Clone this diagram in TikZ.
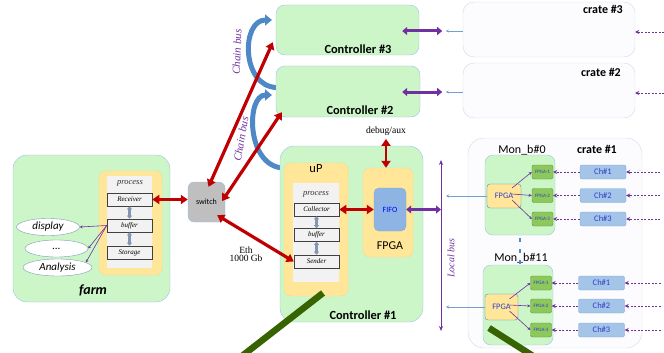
\documentclass[tikz,border=0pt]{standalone}
\usepackage{fontspec}
\setmainfont{Liberation Serif}
\setsansfont{Carlito}
\usetikzlibrary{arrows.meta,calc,shapes.geometric}

\definecolor{boxgreen}{HTML}{CCF5C8}
\definecolor{bordblue}{HTML}{9DC3E6}
\definecolor{boxorange}{HTML}{FFE699}
\definecolor{panelgray}{HTML}{F2F2F2}
\definecolor{busred}{HTML}{C00000}
\definecolor{buspurple}{HTML}{7030A0}
\definecolor{chainblue}{HTML}{4F88C6}
\definecolor{fifoblue}{HTML}{8EB4E3}
\definecolor{chipgreen}{HTML}{8CC85A}
\definecolor{chanblue}{HTML}{A4C4E8}
\definecolor{pointgreen}{HTML}{376300}
\definecolor{cratefill}{HTML}{FCFCFE}
\definecolor{crateline}{HTML}{D0D8E8}
\definecolor{textblue}{HTML}{2F3FC8}
\definecolor{stemgray}{HTML}{8497B0}

\newcommand\fsz[1]{\fontsize{#1}{#1}\selectfont}

\tikzset{
  greenbox/.style={draw=bordblue, fill=boxgreen, rounded corners=9pt, inner sep=0pt},
  orangebox/.style={draw=boxorange!85!orange, fill=boxorange, rounded corners=7pt, inner sep=0pt},
  panel/.style={fill=panelgray, inner sep=0pt},
  cratebox/.style={draw=crateline, fill=cratefill, rounded corners=11pt, inner sep=0pt},
  stage/.style={draw=black!75, fill=panelgray, line width=0.6pt, minimum width=45pt,
    minimum height=13pt, inner sep=0pt, font=\itshape\fsz{7}},
  proclbl/.style={font=\itshape\fsz{8.5}, text=black!80},
  ctrllbl/.style={font=\sffamily\bfseries\fsz{12.4}},
  cratelbl/.style={font=\sffamily\bfseries\fsz{12}},
  monlbl/.style={font=\sffamily\fsz{12}},
  chainlbl/.style={font=\itshape\fsz{11}, text=buspurple},
  cons/.style={ellipse, draw=bordblue!80!black, fill=white, inner sep=0pt,
    font=\sffamily\itshape\fsz{11}},
  switchbox/.style={draw=bordblue, fill=black!25, rounded corners=6pt, inner sep=0pt,
    minimum width=37pt, minimum height=40pt, font=\sffamily\fsz{8}},
  fifobox/.style={draw=chainblue!70, fill=fifoblue, rounded corners=5pt, inner sep=0pt,
    minimum width=32pt, minimum height=43pt, font=\sffamily\fsz{8}, text=blue},
  fpgasmall/.style={draw=chainblue, fill=boxorange, rounded corners=3pt, inner sep=0pt,
    font=\sffamily\fsz{8.4}, text=textblue},
  chip/.style={draw=chipgreen!70!black, fill=chipgreen, rounded corners=2pt, inner sep=0pt,
    minimum width=21pt, minimum height=14pt, font=\sffamily\fsz{5}, text=textblue},
  chan/.style={draw=chainblue!70, fill=chanblue, rounded corners=2pt, inner sep=0pt,
    minimum width=46pt, minimum height=14pt, font=\sffamily\fsz{8.5}, text=textblue},
  redbus/.style={draw=busred, line width=3.2pt,
    {Triangle[width=9pt,length=7pt]}-{Triangle[width=9pt,length=7pt]}},
  purplebus/.style={draw=buspurple, line width=3pt,
    {Triangle[width=8pt,length=5pt]}-{Triangle[width=8pt,length=5pt]}},
  localbus/.style={draw=buspurple, line width=1pt,
    {Stealth[width=4pt,length=5pt]}-{Stealth[width=4pt,length=5pt]}},
  thinpurple/.style={draw=buspurple, line width=0.6pt, -{Stealth[width=3pt,length=3pt]}},
  dashpurple/.style={draw=buspurple, line width=0.7pt, dash pattern=on 2pt off 1.5pt,
    -{Stealth[width=4pt,length=4pt]}},
  thinblue/.style={draw=chainblue!80, line width=0.5pt, -{Stealth[width=3pt,length=3pt]}},
  grayarrow/.style={draw=stemgray, line width=2.2pt,
    {Triangle[width=5pt,length=3pt]}-{Triangle[width=5pt,length=3pt]}},
  chainbus/.style={draw=chainblue, line width=5pt, -{Triangle[width=11pt,length=7pt]}},
  pointer/.style={draw=pointgreen, line width=6.5pt},
}

\begin{document}
\begin{tikzpicture}[x=1pt, y=-1pt]
\useasboundingbox (0,0) rectangle (664,353);

% Farm
\node[greenbox, rounded corners=14pt, minimum width=157pt, minimum height=147pt] (farm) at (91.5,228.5) {};
\node[font=\sffamily\bfseries\itshape\fsz{14}] (farmlbl) at (93,290) {farm};
\node[orangebox, minimum width=63pt, minimum height=104pt] (fproc) at (130.5,223) {};
\node[panel, minimum width=45pt, minimum height=92pt] (fpanel) at (129.5,222) {};
\node[proclbl] (fproclbl) at (130,183) {process};
\node[stage] (recv) at (129.5,199.5) {Receiver};
\node[stage] (fbuf) at (129.5,225.5) {buffer};
\node[stage] (stor) at (129.5,252.5) {Storage};
\draw[grayarrow] (recv.south) -- (fbuf.north);
\draw[grayarrow] (fbuf.south) -- (stor.north);

% Consumers
\node[cons, minimum width=63pt, minimum height=17pt] (disp) at (48,227) {display};
\node[cons, minimum width=63pt, minimum height=17pt] (dots) at (56.5,248.5) {...};
\node[cons, minimum width=69pt, minimum height=17pt] (ana) at (57.5,267.5) {Analysis};
\draw[thinpurple] (fbuf.west) -- (disp.east);
\draw[thinpurple] (fbuf.west) -- (dots.east);
\draw[thinpurple] (fbuf.west) -- (ana.10);

% Switch
\node[switchbox] (sw) at (206.5,202) {switch};
\node[align=center, font=\fsz{9.5}] (eth) at (246,254) {Eth\\[-1pt]1000 Gb};

% Chain bus
\draw[chainbus] (277,87.5) .. controls (241,87) and (241,20) .. (272,20);
\draw[chainbus] (283,168) .. controls (246,166) and (246,95) .. (272,95);
\node[chainlbl, rotate=88] (cb1) at (237,52) {Chain bus};
\node[chainlbl, rotate=80] (cb2) at (241,139) {Chain bus};

% Controllers
\node[greenbox, minimum width=143pt, minimum height=50pt] (c3) at (347.5,30) {};
\node[ctrllbl] (c3lbl) at (358,49) {Controller \#3};
\node[greenbox, minimum width=144pt, minimum height=51pt] (c2) at (348,91.5) {};
\node[ctrllbl] (c2lbl) at (360,110) {Controller \#2};
\node[greenbox, rounded corners=14pt, minimum width=143pt, minimum height=176pt] (c1) at (351.5,234) {};
\node[ctrllbl] (c1lbl) at (363,315) {Controller \#1};

% uP
\node[orangebox, minimum width=64pt, minimum height=133pt] (up) at (316,229.5) {};
\node[font=\sffamily\fsz{12.5}] (uplbl) at (316,169) {uP};
\node[panel, minimum width=46pt, minimum height=99pt] (uppanel) at (316,232.5) {};
\node[proclbl] (upproclbl) at (316,194) {process};
\node[stage] (coll) at (316.5,209.5) {Collector};
\node[stage] (ubuf) at (316.5,235) {buffer};
\node[stage] (send) at (316.5,261.5) {Sender};
\draw[grayarrow] (coll.south) -- (ubuf.north);
\draw[grayarrow] (ubuf.south) -- (send.north);

% FPGA
\node[orangebox, minimum width=50pt, minimum height=89pt] (fpga) at (388,212.5) {};
\node[font=\sffamily\fsz{12}] (fpgalbl) at (390,246) {FPGA};
\node[fifobox] (fifo) at (390,209.5) {FIFO};
\node[font=\fsz{9.6}] (dbg) at (386,131) {debug/aux};
\draw[redbus, line width=2.4pt] (dbg.south) -- (dbg.south |- fpga.north);

% Crates 3 and 2
\node[cratebox, minimum width=172pt, minimum height=55pt] (crate3) at (549,29.5) {};
\node[cratelbl] (crate3lbl) at (603,9) {crate \#3};
\node[cratebox, minimum width=172pt, minimum height=55pt] (crate2) at (549,90.5) {};
\node[cratelbl] (crate2lbl) at (601,72) {crate \#2};
\draw[purplebus] ($(c3.east)+(-17,1)$) -- ($(c3.east)+(23,1)$);
\draw[purplebus] ($(c2.east)+(-18,0.5)$) -- ($(c2.east)+(22,0.5)$);
\draw[thinblue] ($(crate3.west)+(0,1.5)$) -- ($(crate3.west)+(-17,1.5)$);
\draw[thinblue] ($(crate2.west)+(0,1.5)$) -- ($(crate2.west)+(-17,1.5)$);
\draw[dashpurple] ($(crate3.east)+(29,2.5)$) -- ($(crate3.east)+(0,2.5)$);
\draw[dashpurple] ($(crate2.east)+(29,2.5)$) -- ($(crate2.east)+(0,2.5)$);

% Local bus
\coordinate (lbtop) at (441,160);
\coordinate (lbbot) at (441,331);
\draw[localbus] (lbtop) -- (lbbot);
\node[font=\itshape\fsz{10}, text=buspurple, rotate=90] (lblbl) at (451,258) {Local bus};
\draw[purplebus] (fifo.east) -- (fifo.east -| lbtop);

% Crate 1
\node[cratebox, rounded corners=16pt, minimum width=174pt, minimum height=210pt] (crate1) at (555,243) {};
\node[cratelbl] (crate1lbl) at (597,149) {crate \#1};

% Mon_b#0
\node[greenbox, rounded corners=8pt, minimum width=70pt, minimum height=80pt] (mon0) at (520,195) {};
\node[monlbl] (mon0lbl) at (522,150) {Mon\_b\#0};
\node[fpgasmall, minimum width=34pt, minimum height=24pt] (f0) at (504,196) {FPGA};
\foreach \i/\y/\t in {1/172/-8, 2/195.5/-2, 3/219/4} {
  \node[chip] (a\i) at (542.5,\y) {FPGA-\i};
  \node[chan] (ach\i) at (603,\y) {Ch\#\i};
  \draw[thinpurple, {Stealth[width=3pt,length=3pt]}-] (a\i.west) -- ($(f0.center)+(8,\t)$);
  \draw[dashpurple] (ach\i.west) -- (a\i.east);
  \draw[dashpurple] ($(ach\i.east)+(34,0)$) -- (ach\i.east);
}

% Mon_b#11
\node[greenbox, rounded corners=8pt, minimum width=70pt, minimum height=80pt] (mon11) at (518,305) {};
\node[monlbl] (mon11lbl) at (521,258) {Mon\_b\#11};
\node[fpgasmall, minimum width=33pt, minimum height=26pt] (f11) at (501.5,307) {FPGA};
\foreach \i/\y/\t in {1/283/-8, 2/306/-2, 3/330/4} {
  \node[chip] (b\i) at (541,\y) {FPGA-\i};
  \node[chan] (bch\i) at (601.5,\y) {Ch\#\i};
  \draw[thinpurple, {Stealth[width=3pt,length=3pt]}-] (b\i.west) -- ($(f11.center)+(8,\t)$);
  \draw[dashpurple] (bch\i.west) -- (b\i.east);
  \draw[dashpurple] ($(bch\i.east)+(36,0)$) -- (bch\i.east);
}
\draw[draw=chainblue, line width=1.2pt, dash pattern=on 4pt off 7pt] ($(mon0.south)+(0,3)$) -- (mon0.south |- mon11.north);
\draw[thinblue] (f0.west) -- ($(f0.west -| lbtop)+(5,0)$);
\draw[thinblue] (f11.west) -- ($(f11.west -| lbtop)+(5,0)$);

% Ethernet links
\draw[redbus] (recv.east) -- (recv.east -| sw.west);
\draw[redbus] ($(sw.north)+(2,5)$) -- ($(c3.south west)+(-3,-13)$);
\draw[redbus] ($(sw.east)+(-3,-1)$) -- ($(c2.south west)+(6,-5)$);
\draw[redbus] ($(sw.south east)+(-8,-7)$) -- (send.west);
\draw[redbus] (coll.east) -- (fifo.west);

% Pointers
\draw[pointer] (323,293) -- (242,356);
\draw[pointer] (489,328) -- (533,356);
\end{tikzpicture}
\end{document}
